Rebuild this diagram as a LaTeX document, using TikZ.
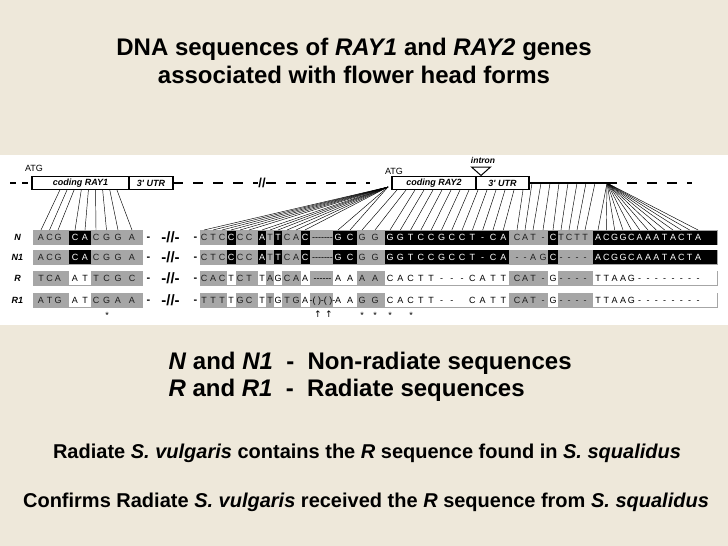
\documentclass[tikz,border=0pt]{standalone}
\usepackage{fontspec}
\setmainfont{Liberation Sans}[Ligatures=TeXOff]
\newfontfamily\symfont{DejaVu Sans}
\usetikzlibrary{positioning,calc}
\definecolor{parch}{RGB}{238,232,218}
\definecolor{seqgray}{RGB}{166,166,166}
\definecolor{seqtext}{RGB}{30,30,30}

% column centres (left part, then right part) and highlighted columns
\def\colx{{41,49.5,58,75,85,96,106.5,118,132,
  204,213,222,231,240,249,262,270,278,287,296,305,
  338,350,362,375,
  390,400.3,410.6,420.9,431.2,441.5,451.8,462.1,472.4,482.7,493,503.3,
  517,525,533,543,553,561,569,577,585,
  598,606.3,614.7,623,631.3,639.7,648,656.3,664.7,673,681.3,689.7,698}}
\def\hlcol{{0,0,0,1,1,0,0,0,0,
  0,0,0,1,0,0,1,0,1,0,0,1,
  1,1,0,0,
  1,1,1,1,1,1,1,1,1,1,1,1,
  0,0,0,0,1,0,0,0,0,
  1,1,1,1,1,1,1,1,1,1,1,1,1}}

\begin{document}
\begin{tikzpicture}[x=1pt,y=-1pt,
    title/.style={font=\fontsize{24}{28}\selectfont\bfseries,align=center},
    keyline/.style={font=\fontsize{24}{28}\selectfont\bfseries},
    note/.style={font=\fontsize{20}{24}\selectfont\bfseries},
    genebox/.style={draw,line width=1.6pt,inner sep=0pt,outer sep=0pt,
      minimum height=13pt,font=\fontsize{9}{10}\selectfont\bfseries\itshape},
    small/.style={font=\fontsize{9}{10}\selectfont,inner sep=0pt},
    base/.style={font=\fontsize{9}{10}\selectfont,inner sep=0pt,anchor=base},
    rowlab/.style={font=\fontsize{9}{10}\selectfont\bfseries\itshape,inner sep=0pt},
    brk/.style={font=\fontsize{13}{14}\selectfont\bfseries,inner sep=0.5pt},
    rowbrk/.style={font=\fontsize{15}{16}\selectfont\bfseries,inner sep=0pt},
    sepdash/.style={font=\fontsize{11}{12}\selectfont\bfseries,inner sep=0pt,anchor=base},
    fan/.style={line width=0.45pt},
    mapline/.style={line width=1.6pt},
    dashline/.style={line width=1.6pt,dash pattern=on 10pt off 10pt},
    leftdash/.style={line width=1.6pt,dash pattern=on 6pt off 6pt}
  ]
  \useasboundingbox (0,0) rectangle (728,546);
  \fill[parch] (0,0) rectangle (728,546);
  \fill[white] (0,155) rectangle (728,325);

  \node[title] (title) at (354,61) {DNA sequences of \textit{RAY1} and \textit{RAY2} genes\\
    associated with flower head forms};

  % gene map
  \node[genebox,minimum width=97pt,anchor=west] (cod1) at (32,183) {coding RAY1};
  \node[genebox,minimum width=44pt,right=0pt of cod1] (utr1) {3' UTR};
  \node[genebox,minimum width=84pt,anchor=west] (cod2) at (392,183) {coding RAY2};
  \node[genebox,minimum width=53pt,right=0pt of cod2] (utr2) {3' UTR};
  \node[small] (atg1) at (34,168) {ATG};
  \node[small] (atg2) at (394,171) {ATG};
  \node[font=\fontsize{8.5}{9}\selectfont\bfseries\itshape,inner sep=0pt] (intron) at (483,160) {intron};
  \draw[line width=1pt] (471.5,167) -- (490.5,167) -- (481,175.5) -- cycle;

  \coordinate (m0) at (10,183);
  \coordinate (m3) at (370,183);
  \coordinate (atgpt) at (388,187);
  \coordinate (m1) at (607,183);
  \coordinate (m2) at (692,183);
  \node[brk] (brk) at (262,183) {//};
  \draw[leftdash] (m0) -- (cod1.west);
  \draw[dashline] (utr1.east) -- (brk.west);
  \draw[dashline] (brk.east) -- (m3);
  \draw[mapline] (utr2.east) -- (m1);
  \draw[dashline] (m1) -- (m2);

  % sequence rows
  \foreach \y/\lab/\hlc/\tc/\gp/\seq [count=\rw] in {
    237.5/N/black/white/{-------}/{A,C,G,C,A,C,G,G,A,
      C,T,C,C,C,C,A,T,T,C,A,C,G,C,G,G,G,G,T,C,C,G,C,C,T,-,C,A,
      C,A,T,-,C,T,C,T,T,A,C,G,G,C,A,A,A,T,A,C,T,A},
    257/N1/black/white/{-------}/{A,C,G,C,A,C,G,G,A,
      C,T,C,C,C,C,A,T,T,C,A,C,G,C,G,G,G,G,T,C,C,G,C,C,T,-,C,A,
      -,-,A,G,C,-,-,-,-,A,C,G,G,C,A,A,A,T,A,C,T,A},
    278/R/white/black/{------}/{T,C,A,A,T,T,C,G,C,
      C,A,C,T,C,T,T,A,G,C,A,A,A,A,A,A,C,A,C,T,T,-,-,-,C,A,T,T,
      C,A,T,-,G,-,-,-,-,T,T,A,A,G,-,-,-,-,-,-,-,-},
    300/R1/white/black/{-( )-( )-}/{A,T,G,A,T,C,G,A,A,
      T,T,T,T,G,C,T,T,G,T,G,A,A,A,G,G,C,A,C,T,T,-,-,{},C,A,T,T,
      C,A,T,-,G,-,-,-,-,T,T,A,A,G,-,-,-,-,-,-,-,-}} {
    \fill[seqgray] (33,\y-7.5) rectangle (143,\y+7.5);
    \fill[seqgray] (200,\y-7.5) rectangle (718,\y+7.5);
    \foreach \a/\b in {69/91,226.5/235.5,258/266,274/282,300.5/309.5,
        333/357,385/509,548/558,593/717}
      \fill[\hlc] (\a,\y-7) rectangle (\b,\y+7);
    \node[rowlab] (lab\rw) at (17.5,\y) {\lab};
    \node[sepdash] (sl\rw) at (148.5,\y+3.1) {-};
    \node[rowbrk] (sb\rw) at (170.5,\y) {-//-};
    \node[sepdash] (sr\rw) at (195.5,\y+3.1) {-};
    \node[base] (gap\rw) at (322.5,\y+3.3) {\gp};
    \foreach \ch [count=\i from 0] in \seq {
      \pgfmathsetmacro\xx{\colx[\i]}
      \pgfmathtruncatemacro\ishl{\hlcol[\i]}
      \ifnum\ishl=1 \def\lc{\tc}\else\def\lc{seqtext}\fi
      \node[base,text=\lc] (s\rw-\i) at (\xx,\y+3.3) {\ch};
      \ifnum\rw=1 \coordinate (c\i) at (\xx,230); \fi
    }
  }

  % lines from the gene map to the sequence columns
  \foreach \i in {0,...,8}
    \draw[fan] ($(cod1.south west)!{0.29+0.073*\i}!(cod1.south east)$) -- (c\i);
  \foreach \i in {9,...,22}
    \draw[fan] (atgpt) -- (c\i);
  \foreach \i in {23,...,45} {
    \pgfmathsetmacro\tx{397+9*(\i-23)}
    \pgfmathsetmacro\ty{\tx<529 ? 190 : 183}
    \draw[fan] (\tx,\ty) -- (c\i);
  }
  \foreach \i in {46,...,58}
    \draw[fan] (m1) -- (c\i);

  % marks under R1
  \foreach \x [count=\k] in {107,362,375,390,411}
    \node[small] (st\k) at (\x,315) {*};
  \foreach \x [count=\k] in {318,329}
    \node[font={\symfont\fontsize{9}{10}\selectfont},inner sep=0pt] (up\k) at (\x,314) {↑};

  % notes
  \node[keyline,anchor=west] (keyN) at (165,363) {\textit{N} and \textit{N1}\ \ -\ \ Non-radiate sequences};
  \node[keyline,anchor=west] (keyR) at (165,390) {\textit{R} and \textit{R1}\ \ -\ \ Radiate sequences};
  \node[note] (rad) at (367,453) {Radiate \textit{S. vulgaris} contains the \textit{R} sequence found in \textit{S. squalidus}};
  \node[note] (conf) at (366,502) {Confirms Radiate \textit{S. vulgaris} received the \textit{R} sequence from \textit{S. squalidus}};
\end{tikzpicture}
\end{document}
